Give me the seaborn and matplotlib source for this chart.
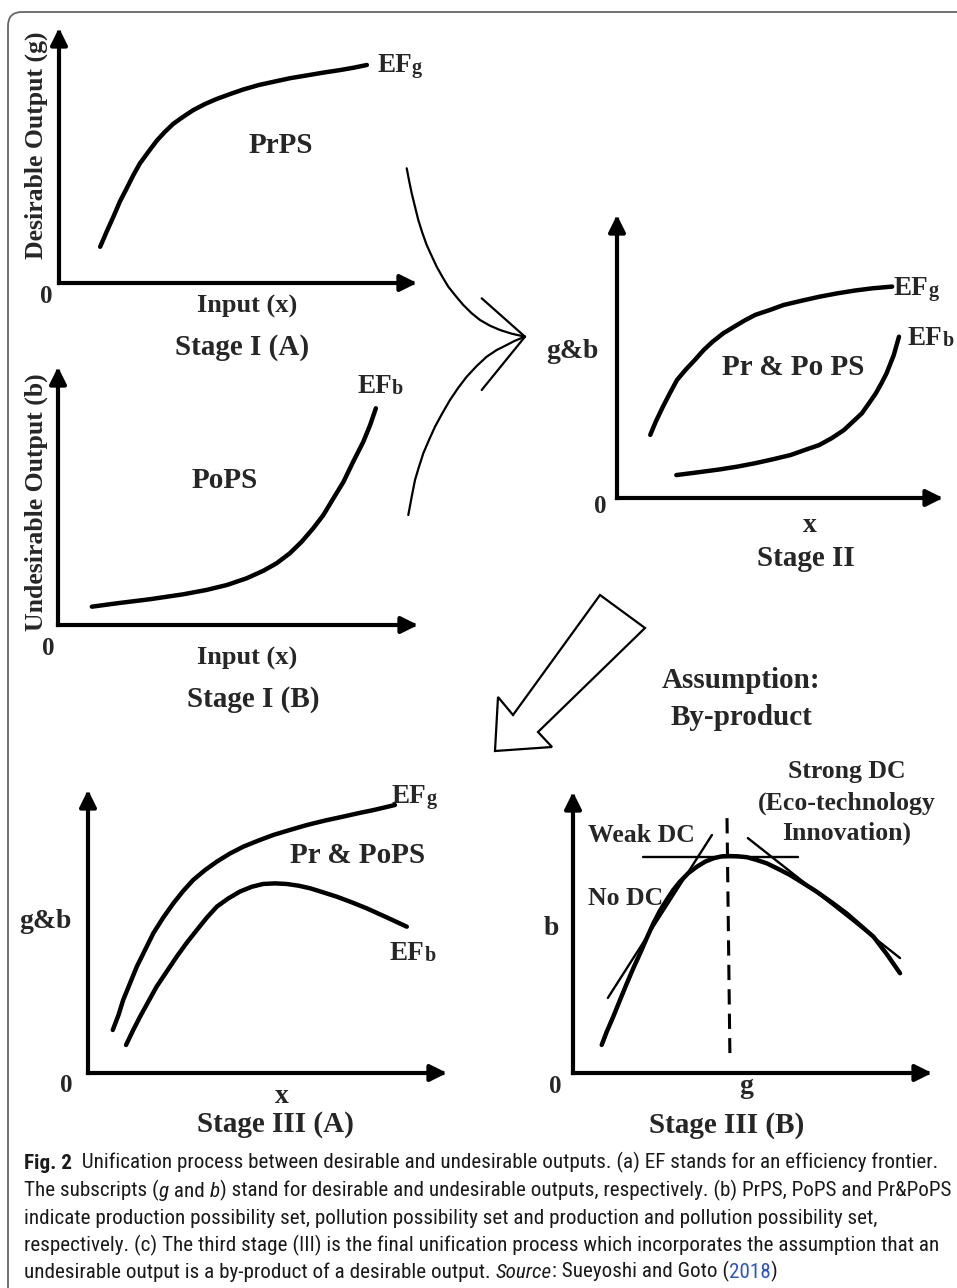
import matplotlib
matplotlib.use("Agg")
import matplotlib.pyplot as plt
import seaborn as sns
from matplotlib import font_manager
from matplotlib.patches import FancyBboxPatch, Polygon

# Curves, in panel units (0..10 along each drawn axis)
stage1a_x = [1.15, 1.33, 1.52, 1.70, 1.89, 2.08, 2.26, 2.50, 2.73, 2.96, 3.19, 3.47, 3.75,
             4.08, 4.41, 4.78, 5.15, 5.57, 5.99, 6.45, 6.92, 7.38, 7.85, 8.22, 8.60]
stage1a_g = [1.42, 2.01, 2.60, 3.19, 3.71, 4.24, 4.69, 5.15, 5.58, 5.93, 6.24, 6.52, 6.78,
             7.02, 7.22, 7.41, 7.59, 7.76, 7.89, 8.03, 8.14, 8.25, 8.35, 8.44, 8.55]

stage1b_x = [0.94, 1.63, 2.56, 3.48, 4.13, 4.69, 5.24, 5.70, 6.07, 6.44, 6.77, 7.09, 7.37,
             7.65, 7.93, 8.20, 8.48, 8.67, 8.83]
stage1b_b = [0.71, 0.84, 1.00, 1.19, 1.36, 1.55, 1.81, 2.10, 2.39, 2.78, 3.23, 3.75, 4.26,
             4.91, 5.55, 6.33, 7.10, 7.75, 8.40]

stage2_xg = [1.02, 1.19, 1.41, 1.63, 1.84, 2.12, 2.39, 2.66, 2.93, 3.26, 3.59, 3.91, 4.24,
             4.68, 5.11, 5.66, 6.20, 6.75, 7.29, 7.84, 8.44]
stage2_g = [2.23, 2.70, 3.23, 3.72, 4.17, 4.55, 4.88, 5.23, 5.52, 5.82, 6.05, 6.27, 6.47,
            6.64, 6.82, 6.97, 7.11, 7.23, 7.33, 7.41, 7.47]
stage2_xb = [1.82, 2.50, 3.15, 3.70, 4.24, 4.79, 5.33, 5.77, 6.20, 6.58, 6.96, 7.24, 7.51,
             7.73, 7.94, 8.11, 8.27, 8.49, 8.65]
stage2_b = [0.81, 0.91, 1.01, 1.11, 1.23, 1.37, 1.52, 1.70, 1.87, 2.11, 2.40, 2.70, 2.99,
            3.35, 3.70, 4.05, 4.41, 5.05, 5.70]

stage3a_xg = [0.69, 0.85, 0.98, 1.17, 1.36, 1.59, 1.82, 2.10, 2.38, 2.65, 2.93, 3.26, 3.59,
              3.96, 4.33, 4.74, 5.16, 5.63, 6.09, 6.60, 7.11, 7.53, 7.95, 8.55]
stage3a_g = [1.52, 2.05, 2.58, 3.17, 3.76, 4.35, 4.94, 5.50, 6.00, 6.43, 6.82, 7.17, 7.47,
             7.76, 8.00, 8.21, 8.41, 8.59, 8.76, 8.92, 9.06, 9.18, 9.29, 9.47]
stage3a_xb = [1.06, 1.26, 1.45, 1.68, 1.91, 2.19, 2.47, 2.75, 3.03, 3.31, 3.59, 3.91, 4.23,
              4.56, 4.88, 5.21, 5.53, 5.86, 6.18, 6.56, 6.93, 7.35, 7.76, 8.32, 8.88]
stage3a_b = [0.99, 1.52, 1.99, 2.52, 3.05, 3.58, 4.11, 4.60, 5.05, 5.49, 5.88, 6.17, 6.41,
             6.58, 6.68, 6.70, 6.68, 6.62, 6.53, 6.38, 6.23, 6.03, 5.82, 5.50, 5.17]

stage3b_g = [0.80, 0.94, 1.12, 1.31, 1.50, 1.68, 1.87, 2.05, 2.24, 2.42, 2.61, 2.79, 2.98,
             3.21, 3.45, 3.68, 3.91, 4.14, 4.37, 4.60, 4.84, 5.12, 5.40, 5.72, 6.04, 6.42,
             6.79, 7.21, 7.62, 7.99, 8.37, 8.74, 9.11]
stage3b_b = [1.00, 1.47, 2.00, 2.60, 3.19, 3.73, 4.26, 4.79, 5.33, 5.77, 6.16, 6.51, 6.81,
             7.11, 7.34, 7.52, 7.64, 7.71, 7.72, 7.71, 7.68, 7.58, 7.46, 7.26, 7.05, 6.75,
             6.45, 6.07, 5.68, 5.27, 4.85, 4.23, 3.55]
weak_dc_g = [0.97, 3.87]
weak_dc_b = [2.67, 8.47]
no_dc_g = [1.95, 6.27]
no_dc_b = [7.69, 7.69]
strong_dc_g = [4.87, 9.11]
strong_dc_b = [8.36, 4.09]
peak_g = [4.29, 4.37]
peak_b = [9.07, 0.71]

# connectors between stage I and stage II (page pixels)
merge_top_x = [406.7, 409.3, 411.7, 415, 418.3, 422.3, 426.7, 431.7, 436.7, 442.3, 448.3,
               455.7, 463.3, 471.7, 480, 490, 500, 511.7, 525]
merge_top_y = [168.3, 181.7, 193.3, 206.7, 220, 232.7, 245, 256, 266.7, 276.7, 286.7,
               296, 305, 313.3, 320, 325.7, 330, 333.7, 336.7]
merge_bot_x = [525, 515, 506.7, 496.7, 486.7, 476.7, 466.7, 458.3, 450, 442.3, 435, 429,
               423.3, 419, 415, 411.7, 408.3]
merge_bot_y = [336.7, 340.7, 345, 350, 356.7, 366, 376.7, 387.7, 400, 413.3, 426.7, 440,
               453.3, 466.7, 480, 496.7, 515]
big_arrow = [(600, 595), (645, 628), (538, 732), (552, 747), (495, 751), (498, 697), (513, 715)]

caption = [
    [("Fig. 2", "bold"), ("  Unification process between desirable and undesirable outputs. (a) EF stands for an efficiency frontier.", "normal")],
    [("The subscripts (", "normal"), ("g", "italic"), (" and ", "normal"), ("b", "italic"),
     (") stand for desirable and undesirable outputs, respectively. (b) PrPS, PoPS and Pr&PoPS", "normal")],
    [("indicate production possibility set, pollution possibility set and production and pollution possibility set,", "normal")],
    [("respectively. (c) The third stage (III) is the final unification process which incorporates the assumption that an", "normal")],
    [("undesirable output is a by-product of a desirable output. ", "normal"), ("Source", "italic"),
     (": Sueyoshi and Goto (", "normal"), ("2018", "link"), (")", "normal")],
]

sns.set_style("white")
plt.rcParams["font.family"] = ["Liberation Serif", "DejaVu Serif"]

installed = {f.name for f in font_manager.fontManager.ttflist}
cap_font = next((f for f in ["Noto Sans Condensed", "Liberation Sans Narrow", "Roboto Condensed"]
                 if f in installed), "Open Sans")

W, H = 957, 1288
fig = plt.figure(figsize=(W / 100, H / 100), dpi=100)

# page canvas in pixel units (y down)
cv = fig.add_axes([0, 0, 1, 1])
cv.set_xlim(0, W)
cv.set_ylim(H, 0)
cv.axis("off")
cv.add_patch(FancyBboxPatch((8, 12), 1000, 1320, boxstyle="round,pad=0,rounding_size=14",
                            fill=False, ec="#666666", lw=1.3))


def panel(x0, y0, xtip, ytip):
    ax = fig.add_axes([x0 / W, 1 - y0 / H, (xtip - x0) / W, (y0 - ytip) / H])
    ax.set_xlim(0, 10)
    ax.set_ylim(0, 10)
    ax.axis("off")
    for end in [(10, 0), (0, 10)]:
        ax.annotate("", xy=end, xytext=(0, 0), annotation_clip=False,
                    arrowprops=dict(arrowstyle="-|>,head_length=0.5,head_width=0.25",
                                    lw=3, color="black", shrinkA=0, shrinkB=0,
                                    mutation_scale=20, capstyle="projecting"))
    return ax


def curve(ax, xs, ys, lw=3.2, **kw):
    kw.setdefault("solid_joinstyle", "round")
    sns.lineplot(x=xs, y=ys, ax=ax, sort=False, estimator=None, color="black",
                 linewidth=lw, legend=False, **kw)
    for ln in ax.lines:
        ln.set_clip_on(False)


def label(x, y, s, size=21, **kw):
    kw.setdefault("ha", "center")
    kw.setdefault("va", "baseline")
    return cv.text(x, y, s, fontsize=size, fontweight="bold", **kw)


def ef(x, y, sub):
    t = label(x, y, "EF", 19.5, ha="left")
    cv.annotate(sub, xy=(1, 0), xycoords=t, xytext=(0, 0), textcoords="offset points",
                fontsize=14.5, fontweight="bold", ha="left", va="bottom")


# Stage I (A)
ax = panel(59, 283, 417, 28)
curve(ax, stage1a_x, stage1a_g)
ef(377, 72, "g")
label(281, 153, "PrPS")
label(247, 313, "Input (x)", 19)
label(242, 355, "Stage I (A)")
label(46, 303, "0", 18)
label(43, 145, "Desirable Output (g)", 18.5, rotation=90, rotation_mode="anchor")

# Stage I (B)
ax = panel(58, 625, 418, 367)
curve(ax, stage1b_x, stage1b_b)
ef(357, 393, "b")
label(225, 488, "PoPS")
label(247, 665, "Input (x)", 19)
label(253, 707, "Stage I (B)")
label(48, 655, "0", 18)
label(43, 502, "Undesirable Output (b)", 18.5, rotation=90, rotation_mode="anchor")

# connectors
curve(cv, merge_top_x, merge_top_y, lw=1.6)
curve(cv, merge_bot_x, merge_bot_y, lw=1.6)
curve(cv, [481.7, 525], [298.3, 336.7], lw=1.6)
curve(cv, [481.7, 525], [390, 336.7], lw=1.6)

# Stage II
ax = panel(617, 498, 943, 215)
curve(ax, stage2_xg, stage2_g)
curve(ax, stage2_xb, stage2_b)
ef(894, 295, "g")
ef(908, 345, "b")
label(793, 375, "Pr & Po PS")
label(572, 358, "g&b", 20)
label(600, 513, "0", 18)
label(810, 532, "x", 20)
label(806, 566, "Stage II")

# hollow arrow + assumption
cv.add_patch(Polygon(big_arrow, closed=True, fc="white", ec="black", lw=1.6, joinstyle="miter"))
label(741, 688, "Assumption:")
label(741, 725, "By-product")

# Stage III (A)
ax = panel(88, 1073, 447, 790)
curve(ax, stage3a_xg, stage3a_g)
curve(ax, stage3a_xb, stage3a_b)
ef(392, 803, "g")
ef(390, 960, "b")
label(358, 863, "Pr & PoPS")
label(45, 928, "g&b", 20)
label(66, 1092, "0", 18)
label(282, 1103, "x", 20)
label(275, 1132, "Stage III (A)")

# Stage III (B)
ax = panel(573, 1073, 932, 792)
curve(ax, stage3b_g, stage3b_b)
curve(ax, weak_dc_g, weak_dc_b, lw=1.7)
curve(ax, no_dc_g, no_dc_b, lw=1.7)
curve(ax, strong_dc_g, strong_dc_b, lw=1.7)
curve(ax, peak_g, peak_b, lw=2.2, linestyle=(0, (5, 3)))
label(847, 778, "Strong DC", 18.5)
label(847, 810, "(Eco-technology", 18.5)
label(847, 840, "Innovation)", 18.5)
label(641, 842, "Weak DC", 18.5)
label(626, 905, "No DC", 18.5)
label(551, 935, "b", 20)
label(555, 1093, "0", 18)
label(746, 1093, "g", 20)
label(727, 1133, "Stage III (B)")

# caption
styles = {"bold": dict(fontweight="bold"), "italic": dict(fontstyle="italic"),
          "normal": dict(), "link": dict(color="#2b55c9")}
for i, line in enumerate(caption):
    prev = None
    for text, st in line:
        kw = dict(fontsize=15.2, family=[cap_font, "DejaVu Sans"], color="#1a1a1a")
        kw.update(styles[st])
        if prev is None:
            prev = cv.text(24, 1169 + i * 27.3, text, ha="left", va="baseline", **kw)
        else:
            prev = cv.annotate(text, xy=(1, 0), xycoords=prev, ha="left", va="bottom", **kw)

fig.savefig("out.png", dpi=100)
